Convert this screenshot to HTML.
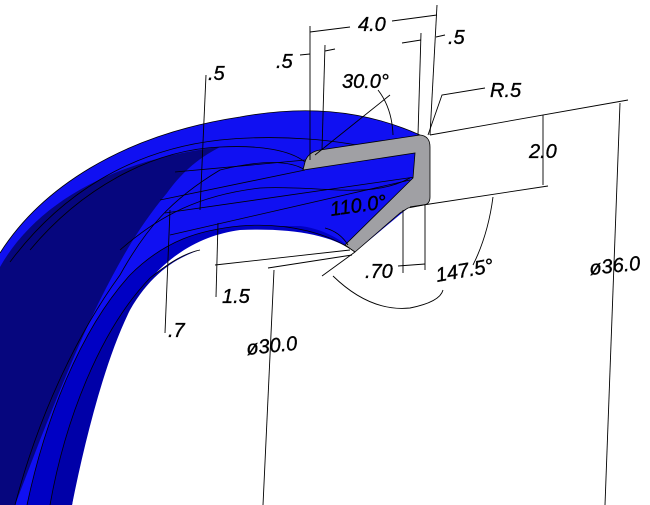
<!DOCTYPE html>
<html><head><meta charset="utf-8"><style>
html,body{margin:0;padding:0;background:#fff;}
svg{display:block}
text{font-family:"Liberation Sans",Arial,sans-serif;font-size:20px;font-style:italic;fill:#000;stroke:#000;stroke-width:0.35}
</style></head><body>
<svg width="650" height="505" viewBox="0 0 650 505" xmlns="http://www.w3.org/2000/svg">
<path d="M0,253 C40,190 120,135 240,117 C300,106 360,108 420,135 L430,147 L430,197 L408,208 L355,252 C330,232 290,226 240,228 C190,235 150,265 120,320 C100,370 80,440 72,505 L0,505 Z" fill="#1010f2"/>
<path d="M0,267 C35,205 110,160 220,147 C195,160 180,175 167,193 C140,225 120,260 100,300 C80,340 60,390 40,440 L15,505 L0,505 Z" fill="#06067e"/>
<path d="M27,505 C45,420 80,330 130,275 C165,240 200,230 240,226 L300,226 C320,228 340,238 355,252 C330,234 290,228 240,230 C195,236 155,262 125,315 C100,365 82,440 72,505 Z" fill="#0000c4"/>
<path d="M50,505 C65,420 100,330 150,278 C170,262 185,253 200,250 C175,258 150,275 130,310 C105,360 85,440 72,505 Z" fill="#0000a8"/>
<g fill="none" stroke="#000" stroke-width="0.8">
<path d="M0,253 C40,190 120,135 240,117 C300,106 360,108 420,135"/>
<path d="M10,262 C60,195 130,150 220,140 C280,134 340,140 380,150"/>
<path d="M30,250 C80,190 150,150 220,147 C260,145 290,150 305,162"/>
<path d="M15,505 C40,410 80,330 120,275 C145,230 170,200 220,170 C260,160 290,160 305,170"/>
<path d="M27,505 C45,420 80,330 130,275 C165,240 200,230 240,226 C290,222 330,234 355,252"/>
<path d="M50,505 C65,420 100,330 150,278 C170,262 185,253 200,250"/>
<path d="M120,250 C160,215 200,195 260,188 C320,185 370,200 410,178"/>
<path d="M175,172 L415,150"/>
<path d="M160,200 L305,170"/>
<path d="M165,213 L415,177"/>
<path d="M170,235 L410,180"/>
</g>
<path d="M303,170 L305,162 Q308,152 320,150 L420,135 Q430,136 430,147 L430,197 Q430,204 424,205 L408,208 L400,213 L355,252 L345,245 L413,178 L415,153 Z" fill="#a0a0a4" stroke="#000" stroke-width="0.8"/>
<g fill="none" stroke="#000" stroke-width="0.9">
<line x1="310" y1="26" x2="310" y2="160"/><line x1="437" y1="5" x2="430" y2="135"/>
<line x1="310" y1="32" x2="350" y2="27"/><line x1="392" y1="21" x2="437" y2="15"/>
<line x1="325" y1="45" x2="322" y2="150"/><line x1="300" y1="55" x2="310" y2="54"/><line x1="325" y1="51" x2="335" y2="49"/>
<line x1="421" y1="33" x2="418" y2="135"/><line x1="402" y1="43" x2="421" y2="40"/><line x1="436" y1="37" x2="445" y2="35"/>
<line x1="315" y1="155" x2="390" y2="95"/><path d="M378,90 Q392,108 393,135"/>
<path d="M428,135 L442,95 L485,88"/>
<line x1="430" y1="135" x2="628" y2="100"/><line x1="410" y1="207" x2="548" y2="186"/>
<line x1="543" y1="115" x2="543" y2="185"/>
<line x1="620" y1="103" x2="605" y2="505"/>
<line x1="403" y1="210" x2="403" y2="273"/><line x1="425" y1="205" x2="425" y2="270"/>
<line x1="398" y1="266" x2="425" y2="264"/>
<path d="M333,276 Q370,312 410,308 Q440,302 443,290"/><path d="M473,265 Q488,235 493,197"/>
<line x1="322" y1="276" x2="355" y2="252"/>
<line x1="215" y1="265" x2="350" y2="250"/><line x1="218" y1="223" x2="216" y2="297"/>
<line x1="268" y1="268" x2="352" y2="255"/><line x1="274" y1="270" x2="263" y2="505"/>
<line x1="170" y1="210" x2="165" y2="333"/>
<line x1="206" y1="75" x2="200" y2="210"/>
<path d="M325,228 Q340,232 348,245"/>
</g>
<text x="358" y="31">4.0</text>
<text x="276" y="68">.5</text>
<text x="448" y="44">.5</text>
<text x="208" y="80">.5</text>
<text x="342" y="88">30.0°</text>
<text x="490" y="97">R.5</text>
<text x="529" y="158">2.0</text>
<text x="331" y="216" transform="rotate(-8 331 216)">110.0°</text>
<text x="365" y="278">.70</text>
<text x="437" y="282" transform="rotate(-10 437 282)">147.5°</text>
<text x="590" y="275" transform="rotate(-6 590 275)">ø36.0</text>
<text x="247" y="355" transform="rotate(-6 247 355)">ø30.0</text>
<text x="222" y="303">1.5</text>
<text x="168" y="337">.7</text>
</svg>
</body></html>
